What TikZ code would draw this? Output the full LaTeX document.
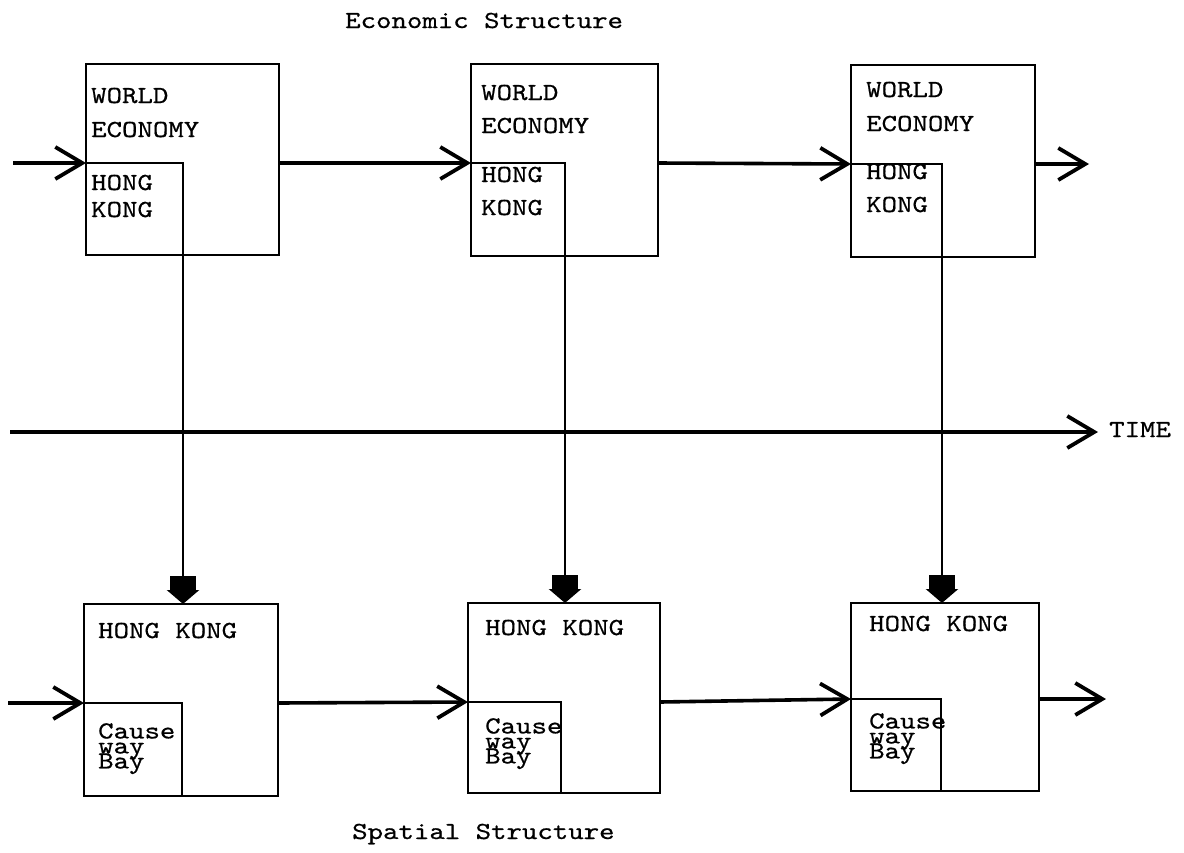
\documentclass[tikz,border=0pt]{standalone}
\usepackage{fontspec}
\newfontfamily\tw{lmmono10-regular.otf}[FakeStretch=1.2,FakeBold=0.6]
\newcommand\tightls{\lineskiplimit=-30pt\relax\lineskip=0pt\relax}
\usetikzlibrary{arrows.meta,calc}
\tikzset{
  box/.style={draw, line width=1.9pt, inner sep=0pt, outer sep=0pt},
  lbl/.style={font=\tw\fontsize{24.5}{15}\selectfont, inner sep=0pt, anchor=base west},
  stack/.style={font=\tw\fontsize{24.5}{15}\selectfont\tightls, inner sep=0pt, anchor=north west, align=left},
  flow/.style={line width=3.6pt, -{Straight Barb[length=27pt,width=32pt,line width=3.8pt]}},
  drop/.style={line width=2.8pt, -{Rectangle[length=16pt,width=26pt,sep=-2pt]Triangle[length=14pt,width=32pt]}},
}
\begin{document}
\begin{tikzpicture}[x=1pt,y=-1pt]
\useasboundingbox (0,0) rectangle (1184,852);
% top row (economic structure)
\node[box, anchor=north west, minimum width=193pt, minimum height=191pt] (T1) at (86,64) {};
\node[box, anchor=south west, minimum width=97pt, minimum height=92pt] (T1i) at (T1.south west) {};
\node[box, anchor=north west, minimum width=187pt, minimum height=192pt] (T2) at (471,64) {};
\node[box, anchor=south west, minimum width=94pt, minimum height=93pt] (T2i) at (T2.south west) {};
\node[box, anchor=north west, minimum width=184pt, minimum height=192pt] (T3) at (851,65) {};
\node[box, anchor=south west, minimum width=91pt, minimum height=93pt] (T3i) at (T3.south west) {};
% bottom row (spatial structure)
\node[box, anchor=north west, minimum width=194pt, minimum height=192pt] (B1) at (84,604) {};
\node[box, anchor=south west, minimum width=98pt, minimum height=93pt] (B1i) at (B1.south west) {};
\node[box, anchor=north west, minimum width=192pt, minimum height=190pt] (B2) at (468,603) {};
\node[box, anchor=south west, minimum width=93pt, minimum height=91pt] (B2i) at (B2.south west) {};
\node[box, anchor=north west, minimum width=188pt, minimum height=188pt] (B3) at (851,603) {};
\node[box, anchor=south west, minimum width=90pt, minimum height=92pt] (B3i) at (B3.south west) {};
% texts
\node[lbl] (econ) at (345,28) {Economic Structure};
\node[lbl] (spat) at (352,839) {Spatial Structure};
\node[lbl] (t1a) at (91,103) {WORLD};
\node[lbl] (t1b) at (91,137) {ECONOMY};
\node[lbl] (t1c) at (91,190) {HONG};
\node[lbl] (t1d) at (91,217) {KONG};
\node[lbl] (t2a) at (481,100) {WORLD};
\node[lbl] (t2b) at (481,133) {ECONOMY};
\node[lbl] (t2c) at (481,182) {HONG};
\node[lbl] (t2d) at (481,215) {KONG};
\node[lbl] (t3a) at (866,97) {WORLD};
\node[lbl] (t3b) at (866,131) {ECONOMY};
\node[lbl] (t3c) at (866,179) {HONG};
\node[lbl] (t3d) at (866,212) {KONG};
\node[lbl] (b1a) at (98,638) {HONG KONG};
\node[stack] (b1b) at (98,723) {Cause\\way\\Bay};
\node[lbl] (b2a) at (485,635) {HONG KONG};
\node[stack] (b2b) at (485,718) {Cause\\way\\Bay};
\node[lbl] (b3a) at (869,631) {HONG KONG};
\node[stack] (b3b) at (869,713) {Cause\\way\\Bay};
\node[lbl] (time) at (1109,437) {TIME};
% free ends
\coordinate (tin) at (13,163);
\coordinate (tout) at (1089,164);
\coordinate (bin) at (8,703);
\coordinate (bout) at (1106,699);
\coordinate (t0) at (10,432);
\coordinate (t1) at (1098,432);
% horizontal flows
\draw[flow] (tin) -- (T1i.north west);
\draw[flow] (T1i.north -| T1.east) -- (T2i.north west);
\draw[flow] (T2i.north -| T2.east) -- (T3i.north west);
\draw[flow] (T3i.north -| T3.east) -- (tout);
\draw[flow] (bin) -- (B1i.north west);
\draw[flow] (B1i.north -| B1.east) -- (B2i.north west);
\draw[flow] (B2i.north -| B2.east) -- (B3i.north west);
\draw[flow] (B3i.north -| B3.east) -- (bout);
% time axis
\draw[flow] (t0) -- (t1);
% vertical links
\draw[drop] (T1i.south east) -- (T1i.south east |- B1.north);
\draw[drop] (T2i.south east) -- (T2i.south east |- B2.north);
\draw[drop] (T3i.south east) -- (T3i.south east |- B3.north);
\end{tikzpicture}
\end{document}
